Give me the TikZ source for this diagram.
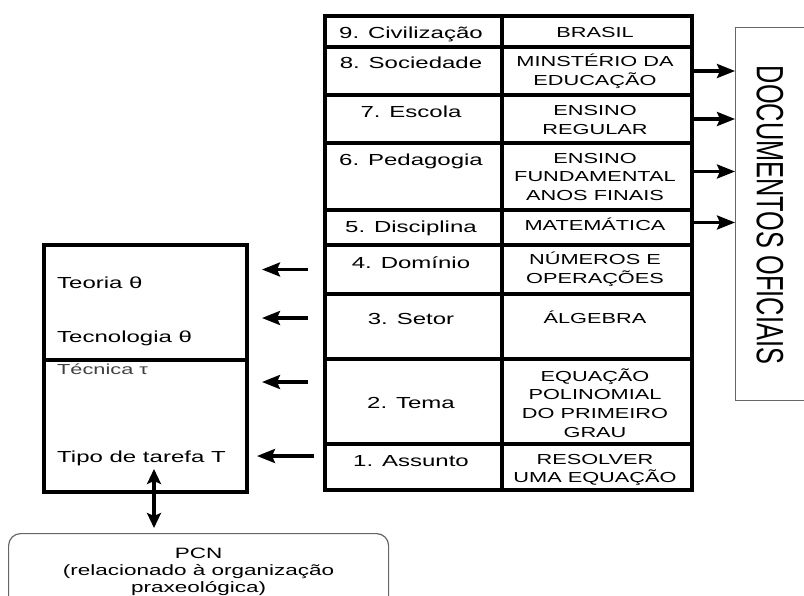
\documentclass[tikz,border=0pt]{standalone}
\usepackage{fontspec}
\setmainfont{Liberation Sans}[FakeStretch=1.5]
\newfontfamily\docfont{Liberation Sans}[FakeStretch=0.667]
\usetikzlibrary{arrows.meta, positioning}

\begin{document}
\begin{tikzpicture}[x=1pt, y=-1pt,
    lcell/.style={draw, line width=4pt, inner sep=0pt, anchor=north west, minimum width=177pt},
    rcell/.style={draw, line width=4pt, inner sep=0pt, anchor=north west, minimum width=190pt},
    ltxt/.style={font=\fontsize{16}{19}\selectfont, inner sep=0pt, text height=11.5pt, text depth=0pt},
    rtxt/.style={font=\fontsize{14.5}{18.7}\selectfont, align=center, inner sep=0pt},
    otxt/.style={font=\fontsize{16}{19}\selectfont, anchor=west, inner sep=0pt, text height=11.5pt, text depth=0pt},
    obox/.style={draw, line width=4pt, inner sep=0pt, anchor=north west, minimum width=203pt},
    thin/.style={draw=black!60, line width=1.2pt, inner sep=0pt, anchor=north west},
    arrow/.style={-{Stealth[length=18pt, width=14pt, inset=3pt]}, line width=3.2pt},
    darrow/.style={{Stealth[length=15pt, width=14pt, inset=3pt]}-{Stealth[length=15pt, width=14pt, inset=3pt]}, line width=3.2pt}
]
    \useasboundingbox (0,0) rectangle (804,595);
    \clip (0,0) rectangle (804,595);

    % Niveis de codeterminacao
    \node[lcell, minimum height=31pt] (l9) at (323,14) {};
    \node[rcell, minimum height=31pt] (r9) at (500,14) {};
    \node[lcell, minimum height=48pt] (l8) at (323,45) {};
    \node[rcell, minimum height=48pt] (r8) at (500,45) {};
    \node[lcell, minimum height=48pt] (l7) at (323,93) {};
    \node[rcell, minimum height=48pt] (r7) at (500,93) {};
    \node[lcell, minimum height=67pt] (l6) at (323,141) {};
    \node[rcell, minimum height=67pt] (r6) at (500,141) {};
    \node[lcell, minimum height=35pt] (l5) at (323,208) {};
    \node[rcell, minimum height=35pt] (r5) at (500,208) {};
    \node[lcell, minimum height=49pt] (l4) at (323,243) {};
    \node[rcell, minimum height=49pt] (r4) at (500,243) {};
    \node[lcell, minimum height=65pt] (l3) at (323,292) {};
    \node[rcell, minimum height=65pt] (r3) at (500,292) {};
    \node[lcell, minimum height=85pt] (l2) at (323,357) {};
    \node[rcell, minimum height=85pt] (r2) at (500,357) {};
    \node[lcell, minimum height=46pt] (l1) at (323,442) {};
    \node[rcell, minimum height=46pt] (r1) at (500,442) {};

    \node[ltxt] (t9) at (411,33) {9. Civilização};
    \node[ltxt] (t8) at (411,63) {8. Sociedade};
    \node[ltxt] (t7) at (411,112) {7. Escola};
    \node[ltxt] (t6) at (411,160) {6. Pedagogia};
    \node[ltxt] (t5) at (411,227) {5. Disciplina};
    \node[ltxt] (t4) at (411,263) {4. Domínio};
    \node[ltxt] (t3) at (411,319) {3. Setor};
    \node[ltxt] (t2) at (411,403) {2. Tema};
    \node[ltxt] (t1) at (411,461) {1. Assunto};

    \node[rtxt] (s9) at (595,33) {BRASIL};
    \node[rtxt] (s8) at (595,71) {MINSTÉRIO DA\\EDUCAÇÃO};
    \node[rtxt] (s7) at (595,120) {ENSINO\\REGULAR};
    \node[rtxt] (s6) at (595,177) {ENSINO\\FUNDAMENTAL\\ANOS FINAIS};
    \node[rtxt] (s5) at (595,224) {MATEMÁTICA};
    \node[rtxt] (s4) at (595,269) {NÚMEROS E\\OPERAÇÕES};
    \node[rtxt] (s3) at (595,317) {ÁLGEBRA};
    \node[rtxt] (s2) at (595,403) {EQUAÇÃO\\POLINOMIAL\\DO PRIMEIRO\\GRAU};
    \node[rtxt] (s1) at (595,470) {RESOLVER\\UMA EQUAÇÃO};

    % Documentos oficiais
    \node[thin, minimum width=120pt, minimum height=373pt] (docs) at (735,27) {};
    \node[rotate=-90, inner sep=0pt, font=\docfont\fontsize{38}{38}\selectfont] (doctxt) at (770,215) {DOCUMENTOS OFICIAIS};

    % Organizacao praxeologica
    \node[obox, minimum height=115pt] (logos) at (42,243) {};
    \node[obox, minimum height=132pt] (praxis) at (42,358) {};
    \node[otxt] (teoria) at (57,283) {Teoria θ};
    \node[otxt] (tecnologia) at (57,337) {Tecnologia θ};
    \node[otxt, text=black!75, font=\fontsize{14.5}{17}\selectfont] (tecnica) at (57,369) {Técnica τ};
    \node[otxt] (tarefa) at (57,457) {Tipo de tarefa T};

    \node[thin, rounded corners=12pt, minimum width=380pt, minimum height=76pt, align=center, font=\fontsize{15}{17}\selectfont] (pcn) at (8,533) {PCN\\(relacionado à organização\\praxeológica)};

    % Arrows
    \draw[arrow] (r8.east) -- (r8.east -| docs.west);
    \draw[arrow] (r7.east) -- (r7.east -| docs.west);
    \draw[arrow] ([yshift=5pt]r6.east) -- ([yshift=5pt]r6.east -| docs.west);
    \draw[arrow] ([yshift=5pt]r5.east) -- ([yshift=5pt]r5.east -| docs.west);

    \draw[arrow, shorten <=15pt, shorten >=13pt] (l4.west) -- (l4.west -| logos.east);
    \draw[arrow, shorten <=15pt, shorten >=13pt] ([yshift=8.5pt]l3.west) -- ([yshift=8.5pt]l3.west -| logos.east);
    \draw[arrow, shorten <=15pt, shorten >=13pt] ([yshift=19.5pt]l2.west) -- ([yshift=19.5pt]l2.west -| praxis.east);
    \draw[arrow, shorten <=9pt, shorten >=8pt] ([yshift=11pt]l1.west) -- ([yshift=11pt]l1.west -| praxis.east);

    \draw[darrow, shorten >=5pt] ([xshift=8.5pt, yshift=25pt]praxis.south) -- ([xshift=8.5pt]praxis.south |- pcn.north);

\end{tikzpicture}
\end{document}
